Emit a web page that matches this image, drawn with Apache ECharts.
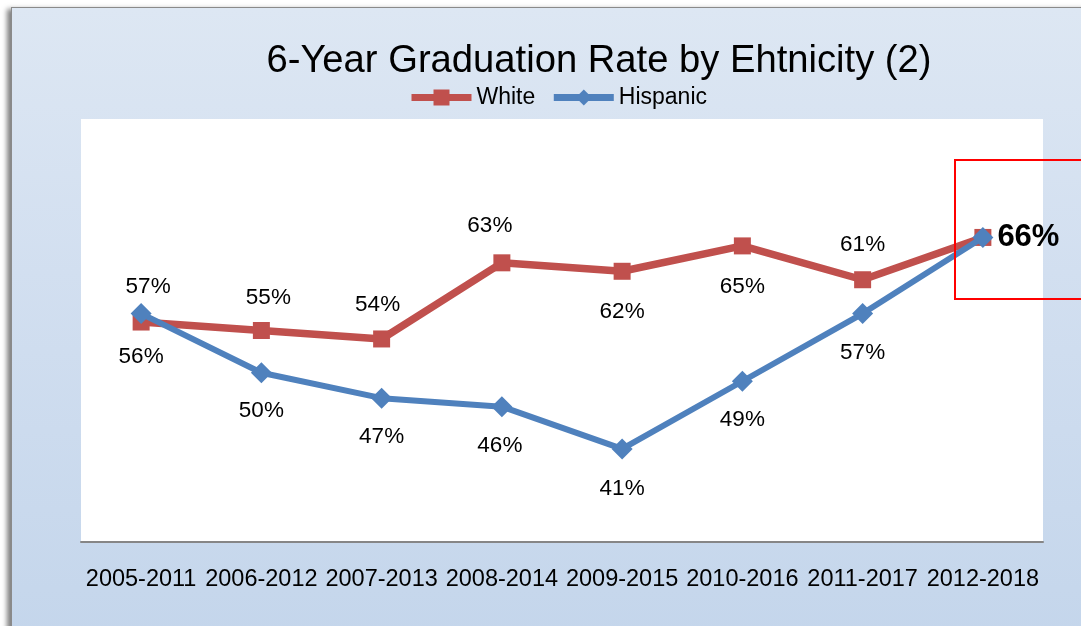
<!DOCTYPE html>
<html>
<head>
<meta charset="utf-8">
<script src="https://cdn.jsdelivr.net/npm/echarts@6/dist/echarts.min.js"></script>
<style>
  html, body { margin: 0; padding: 0; background: #ffffff; overflow: hidden; }
  #frame {
    position: absolute; left: 11px; top: 7px; width: 1120px; height: 660px;
    background: linear-gradient(to bottom, #dde7f3 0%, #d2dff0 40%, #c3d5eb 100%);
    border: 1.5px solid #8a8a8a;
    box-shadow: -4px 2px 5px rgba(0,0,0,0.5);
  }
  #chart { position: absolute; left: 0; top: 0; width: 1081px; height: 626px; }
</style>
</head>
<body>
<div id="frame"></div>
<div id="chart"></div>
<script>
const categories = ['2005-2011','2006-2012','2007-2013','2008-2014','2009-2015','2010-2016','2011-2017','2012-2018'];
const whiteValues = [56, 55, 54, 63, 62, 65, 61, 66];
const hispanicValues = [57, 50, 47, 46, 41, 49, 57, 66];
const titleText = '6-Year Graduation Rate by Ehtnicity (2)';

// label offsets (dx, dy) relative to each point
const whiteLabelOffsets = [[0,35],[7,-33],[-4,-34],[-12,-37],[0,41],[0,41],[0,-35],null];
const hispLabelOffsets = [[7,-27],[0,38],[0,39],[-2,39],[0,40],[0,39],[0,39],null];

const FONT = 'Liberation Sans';
const chart = echarts.init(document.getElementById('chart'), null, { renderer: 'canvas' });

function buildData(values, offsets, isWhite) {
  return values.map((v, i) => {
    const off = offsets[i];
    if (off) {
      return { value: v, label: { show: true, position: 'inside', offset: off } };
    }
    if (isWhite) {
      return { value: v, label: { show: true, position: 'right', distance: 6,
        fontWeight: 'bold', fontSize: 31, color: '#000' } };
    }
    return { value: v, label: { show: false } };
  });
}

const labelFmt = p => p.value + '%';

chart.setOption({
  backgroundColor: 'transparent',
  animation: false,
  title: {
    text: titleText,
    left: 594, top: 37, textAlign: 'center',
    textStyle: { fontFamily: FONT, fontSize: 38.2, fontWeight: 'normal', color: '#000' }
  },
  legend: {
    data: ['White', 'Hispanic'],
    left: 403, top: 81,
    itemWidth: 60, itemHeight: 20, itemGap: 15,
    lineStyle: { width: 7 },
    textStyle: { fontFamily: FONT, fontSize: 23, color: '#000' }
  },
  grid: {
    left: 81, right: 38, top: 119, bottom: 84,
    show: true, backgroundColor: '#ffffff', borderWidth: 0
  },
  xAxis: {
    type: 'category', data: categories, boundaryGap: true,
    axisLine: { show: true, lineStyle: { color: '#868686', width: 2 } },
    axisTick: { show: false },
    axisLabel: { fontFamily: FONT, fontSize: 23.5, color: '#000', margin: 26, interval: 0 }
  },
  yAxis: {
    type: 'value', min: 30, max: 80, show: false,
    splitLine: { show: false }
  },
  series: [
    {
      name: 'White', type: 'line', data: buildData(whiteValues, whiteLabelOffsets, true),
      color: '#c0504d',
      lineStyle: { color: '#c0504d', width: 7.5 },
      itemStyle: { color: '#c0504d' },
      symbol: 'rect', symbolSize: 17,
      label: { show: true, formatter: labelFmt, fontFamily: FONT, fontSize: 22.5, color: '#000' },
      z: 2
    },
    {
      name: 'Hispanic', type: 'line', data: buildData(hispanicValues, hispLabelOffsets, false),
      color: '#4f81bd',
      lineStyle: { color: '#4f81bd', width: 6 },
      itemStyle: { color: '#4f81bd' },
      symbol: 'diamond', symbolSize: 21,
      label: { show: true, formatter: labelFmt, fontFamily: FONT, fontSize: 22.5, color: '#000' },
      z: 3
    }
  ],
  graphic: [
    {
      type: 'rect', z: 100, silent: true,
      shape: { x: 955, y: 160, width: 140, height: 139 },
      style: { fill: 'none', stroke: '#ff0000', lineWidth: 2 }
    }
  ]
});
</script>
</body>
</html>
